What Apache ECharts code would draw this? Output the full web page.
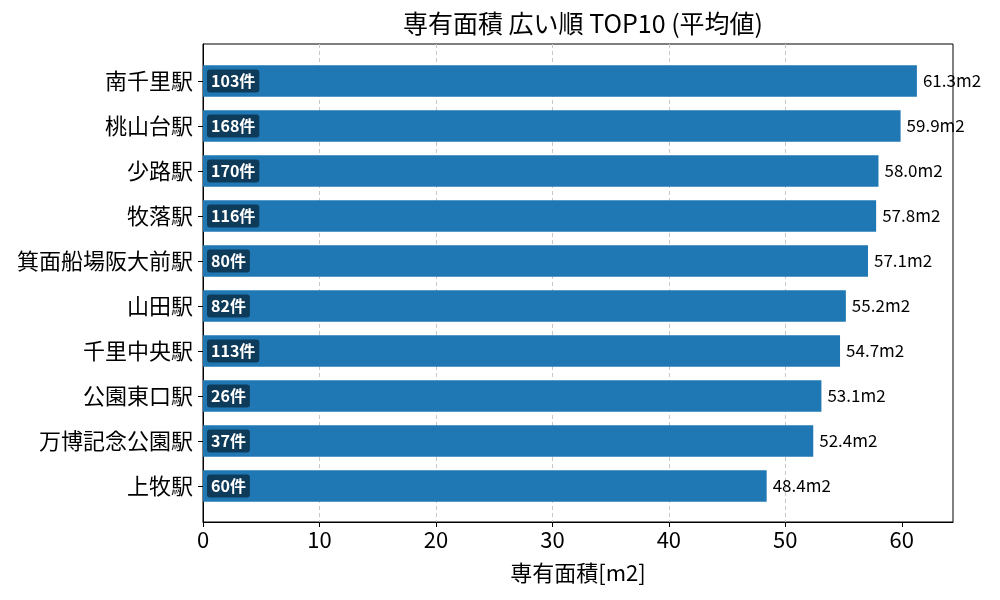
<!DOCTYPE html>
<html>
<head>
<meta charset="utf-8">
<script src="https://cdn.jsdelivr.net/npm/echarts@6/dist/echarts.min.js"></script>
<style>
  html, body { margin: 0; padding: 0; background: #fff; }
  #main { width: 1000px; height: 600px; }
</style>
</head>
<body>
<div id="main"></div>
<script>
// 駅名（上から順）
var stations = ['南千里駅', '桃山台駅', '少路駅', '牧落駅', '箕面船場阪大前駅',
  '山田駅', '千里中央駅', '公園東口駅', '万博記念公園駅', '上牧駅'];
// 平均専有面積 m2
var areas = [61.3, 59.9, 58.0, 57.8, 57.1, 55.2, 54.7, 53.1, 52.4, 48.4];
// 件数
var counts = [103, 168, 170, 116, 80, 82, 113, 26, 37, 60];
var xTicks = [0, 10, 20, 30, 40, 50, 60];

var FONT = '"Noto Sans CJK JP", "Noto Sans", sans-serif';
var xMax = 64.4;

function initBarChart() {
  var dom = document.getElementById('main');
  var myChart = echarts.init(dom);
  var option = {
    backgroundColor: '#fff',
    animation: false,
    textStyle: { fontFamily: FONT },
    title: {
      text: '専有面積 広い順 TOP10 (平均値)',
      left: 578,
      top: 6,
      textAlign: 'center',
      textStyle: { fontFamily: FONT, fontSize: 25, fontWeight: 'normal', color: '#000' }
    },
    grid: [
      // frame + x axis
      { left: 203, right: 47, top: 44, bottom: 78, show: true, borderColor: '#000', borderWidth: 1, backgroundColor: 'transparent' },
      // bars
      { left: 203, right: 47, top: 58.5, height: 450 }
    ],
    xAxis: [
      {
        gridIndex: 0,
        type: 'value',
        min: 0,
        max: xMax,
        interval: 10,
        name: '専有面積[m2]',
        nameLocation: 'middle',
        nameGap: 40,
        nameTextStyle: { fontFamily: FONT, fontSize: 22, color: '#000' },
        axisLine: { show: true, lineStyle: { color: '#000' } },
        axisTick: { show: true, length: 5, customValues: xTicks, lineStyle: { color: '#000' } },
        axisLabel: {
          fontFamily: FONT, fontSize: 22, color: '#000', margin: 7,
          customValues: xTicks
        },
        splitLine: { show: true, showMinLine: false, showMaxLine: false, lineStyle: { color: '#c8c8c8', type: [4, 3], width: 1 } }
      },
      {
        gridIndex: 1,
        type: 'value',
        min: 0,
        max: xMax,
        show: false
      }
    ],
    yAxis: [
      {
        gridIndex: 0,
        type: 'value',
        axisLine: { show: true, lineStyle: { color: '#000' } },
        axisTick: { show: false },
        axisLabel: { show: false },
        splitLine: { show: false }
      },
      {
        gridIndex: 1,
        type: 'category',
        inverse: true,
        data: stations,
        axisLine: { show: false },
        axisTick: { show: true, length: 5, alignWithLabel: true, lineStyle: { color: '#000' } },
        axisLabel: { fontFamily: FONT, fontSize: 22, color: '#000', margin: 10 }
      }
    ],
    series: [
      {
        name: '専有面積',
        type: 'bar',
        xAxisIndex: 1,
        yAxisIndex: 1,
        data: areas,
        barWidth: '70%',
        itemStyle: { color: '#1f77b4' },
        label: {
          show: true,
          position: 'right',
          distance: 6,
          fontFamily: FONT,
          fontSize: 17,
          color: '#000',
          formatter: function (p) { return p.value.toFixed(1) + 'm2'; }
        }
      },
      {
        name: '件数',
        type: 'bar',
        xAxisIndex: 1,
        yAxisIndex: 1,
        data: areas,
        barWidth: '70%',
        barGap: '-100%',
        itemStyle: { color: 'transparent' },
        silent: true,
        label: {
          show: true,
          position: 'insideLeft',
          distance: 4,
          fontFamily: FONT,
          fontSize: 16,
          fontWeight: 'bold',
          color: '#fff',
          backgroundColor: 'rgba(0,0,0,0.5)',
          borderRadius: 3,
          padding: [4, 4, 3, 4],
          formatter: function (p) { return counts[p.dataIndex] + '件'; }
        }
      }
    ]
  };
  myChart.setOption(option, true);
}

initBarChart();
</script>
</body>
</html>
